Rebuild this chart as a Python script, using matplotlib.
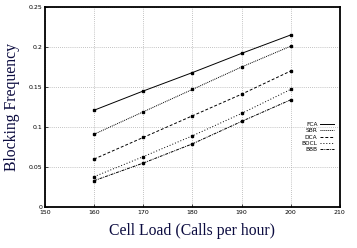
import numpy as np
import matplotlib
matplotlib.use("Agg")
import matplotlib.pyplot as plt

# data
load = [160, 170, 180, 190, 200]
fca = [0.121, 0.145, 0.168, 0.192, 0.215]
sbr = [0.091, 0.119, 0.147, 0.175, 0.201]
dca = [0.060, 0.087, 0.114, 0.141, 0.170]
bdcl = [0.038, 0.063, 0.089, 0.117, 0.147]
bbb = [0.033, 0.055, 0.079, 0.107, 0.134]
names = ["FCA", "SBR", "DCA", "BDCL", "BBB"]
styles = ["-", (0, (1, 1)), (0, (3, 2)), (0, (1, 2)), (0, (3, 1, 1, 1))]

fig = plt.figure(figsize=(3.57, 2.48), dpi=100)
ax = fig.add_axes([0.126, 0.165, 0.826, 0.807])

for ys, nm, ls in zip([fca, sbr, dca, bdcl, bbb], names, styles):
    ax.plot(load, ys, color="black", linestyle=ls, linewidth=0.7,
            marker="s", markersize=1.6, label=nm)

ax.set_xlim(150, 210)
ax.set_ylim(0, 0.25)
ax.set_xticks([150, 160, 170, 180, 190, 200, 210])
ax.set_yticks([0, 0.05, 0.1, 0.15, 0.2, 0.25])
ax.set_yticklabels(["0", "0.05", "0.1", "0.15", "0.2", "0.25"])
ax.tick_params(labelsize=4.5, length=2, width=0.5, direction="in", pad=2)
ax.grid(True, color="#b0b0b0", linestyle=(0, (1, 1.5)), linewidth=0.6)
for s in ax.spines.values():
    s.set_linewidth(1.3)

ax.set_xlabel("Cell Load (Calls per hour)", family="Liberation Serif",
              fontsize=11.3, color="#0c0c40", labelpad=6)
ax.set_ylabel("Blocking Frequency", family="Liberation Serif",
              fontsize=11.3, color="#0c0c40", labelpad=6)

leg = ax.legend(loc="center right", bbox_to_anchor=(0.995, 0.35), fontsize=4.2,
                frameon=False, markerfirst=False, handlelength=2.5,
                labelspacing=0.2, handletextpad=0.4, borderpad=0.2)
for h in leg.legend_handles:
    h.set_marker("")
for t in leg.get_texts():
    t.set_ha("right")

fig.savefig("out.png", dpi=100)
